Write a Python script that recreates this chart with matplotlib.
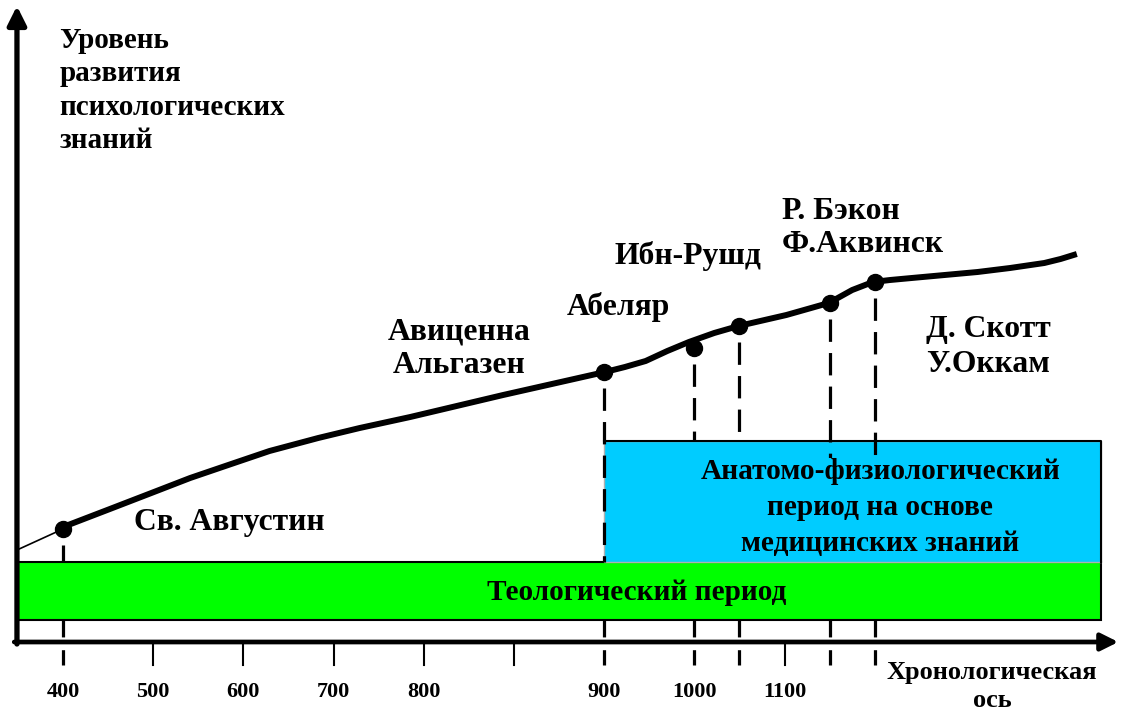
import matplotlib.pyplot as plt

# x: tick slots along the time axis, y: level of psychological knowledge
tick_slots = [1, 2, 3, 4, 5, 8]
label_slots = [0, 1, 2, 3, 4, 6, 7, 8]
tick_labels = ["400", "500", "600", "700", "800", "900", "1000", "1100"]

# thinkers on the curve
point_x = [0, 6, 7, 7.5, 8.5, 9]
point_y = [11.3, 27.0, 29.4, 31.6, 33.9, 36.0]
# where the upper part of each drop line stops
drop_end = [8.0, 8.0, 20.1, 20.1, 16.4, 16.4]

# the development curve
curve_x = [0, 0.52, 0.98, 1.41, 1.80, 2.29, 2.83, 3.29, 3.85, 4.88, 6.01,
           6.23, 6.46, 6.70, 6.94, 7.22, 7.49, 8.02, 8.49, 8.63, 8.75, 8.98,
           9.17, 9.41, 10.14, 10.50, 10.88, 11.06, 11.24]
curve_y = [11.5, 13.3, 14.9, 16.4, 17.6, 19.1, 20.4, 21.4, 22.5, 24.7, 27.0,
           27.5, 28.1, 29.1, 30.0, 30.9, 31.6, 32.7, 33.9, 34.6, 35.2, 36.0,
           36.2, 36.4, 37.0, 37.4, 37.9, 38.3, 38.8]
lead_x = [-0.51, 0]
lead_y = [9.2, 11.3]

# periods: (x0, x1, y0, y1)
theo_box = (-0.51, 11.51, 2.2, 8.0)
anat_box = (6.0, 11.51, 8.0, 20.1)

font = dict(family="Liberation Serif", weight="bold")
dash = (0, (7, 3.5))

fig = plt.figure(figsize=(11.21, 7.13), dpi=100)
ax = fig.add_axes([0, 0, 1, 1])
ax.set_xlim(-0.698, 11.73)
ax.set_ylim(-7.1, 64.2)
ax.axis("off")

# period boxes
x0, x1, y0, y1 = theo_box
ax.add_patch(plt.Rectangle((x0, y0), x1 - x0, y1 - y0, facecolor="#00ff00",
                           edgecolor="black", lw=1.5, zorder=2))
x0, x1, y0, y1 = anat_box
ax.add_patch(plt.Rectangle((x0, y0), x1 - x0, y1 - y0, facecolor="#00ccff",
                           edgecolor="#b0b0b0", lw=1.0, zorder=2))
ax.plot([x0, x1, x1], [y1, y1, y0], color="black", lw=1.5, zorder=2)

# dashed drop lines from each thinker
for px, py, pe in zip(point_x, point_y, drop_end):
    ax.plot([px, px], [py - 1.6, pe], color="black", lw=2.3,
            linestyle=dash, zorder=3)
    ax.plot([px, px], [theo_box[2], -2.3], color="black", lw=2.3,
            linestyle=(0, (5.3, 4.0)), zorder=1)

# plain ticks
for t in tick_slots:
    ax.plot([t, t], [0, -2.3], color="black", lw=1.5, zorder=1)

# axes arrows
ax.annotate("", xy=(-0.51, 63.6), xytext=(-0.51, -0.2),
            arrowprops=dict(arrowstyle="-|>", lw=3.8, color="black",
                            mutation_scale=28, shrinkA=0, shrinkB=0), zorder=4)
ax.annotate("", xy=(11.70, 0), xytext=(-0.54, 0),
            arrowprops=dict(arrowstyle="-|>", lw=3.4, color="black",
                            mutation_scale=26, shrinkA=0, shrinkB=0), zorder=4)

# curve and points
ax.plot(lead_x, lead_y, color="black", lw=1.2, zorder=5)
ax.plot(curve_x, curve_y, color="black", lw=4.3, solid_capstyle="butt",
        solid_joinstyle="round", zorder=5)
ax.plot(point_x, point_y, "o", color="black", markersize=11.5, zorder=6)

# tick labels
for s, lab in zip(label_slots, tick_labels):
    ax.text(s, -5.5, lab, ha="center", va="baseline", fontsize=16, **font)

# texts (y is the baseline of the last line)
ax.text(-0.04, 49.4, "Уровень\nразвития\nпсихологических\nзнаний",
        ha="left", va="baseline", fontsize=21, linespacing=1.3, **font)
ax.text(0.79, 11.2, "Св. Августин", ha="left", va="baseline", fontsize=22.8, **font)
ax.text(4.39, 26.9, "Авиценна\nАльгазен", ha="center", va="baseline",
        fontsize=22.8, linespacing=1.2, **font)
ax.text(6.16, 32.7, "Абеляр", ha="center", va="baseline", fontsize=22.8, **font)
ax.text(6.93, 37.8, "Ибн-Рушд", ha="center", va="baseline", fontsize=22.8, **font)
ax.text(7.97, 39.0, "Р. Бэкон\nФ.Аквинск", ha="left", va="baseline",
        fontsize=22.8, linespacing=1.2, **font)
ax.text(9.57, 27.0, "Д. Скотт\nУ.Оккам", ha="left", va="baseline",
        fontsize=22.8, linespacing=1.25, **font)
ax.text(9.06, 9.1, "Анатомо-физиологический\nпериод на основе\nмедицинских знаний",
        ha="center", va="baseline", fontsize=21.2, linespacing=1.43, zorder=7,
        bbox=dict(facecolor="#00ccff", edgecolor="none", pad=0), **font)
ax.text(6.36, 4.2, "Теологический период", ha="center", va="baseline",
        fontsize=21.1, zorder=7, **font)
ax.text(10.3, -6.5, "Хронологическая\nось", ha="center", va="baseline",
        fontsize=19, linespacing=1.25, **font)

fig.savefig("out.png", dpi=100)
plt.close(fig)
